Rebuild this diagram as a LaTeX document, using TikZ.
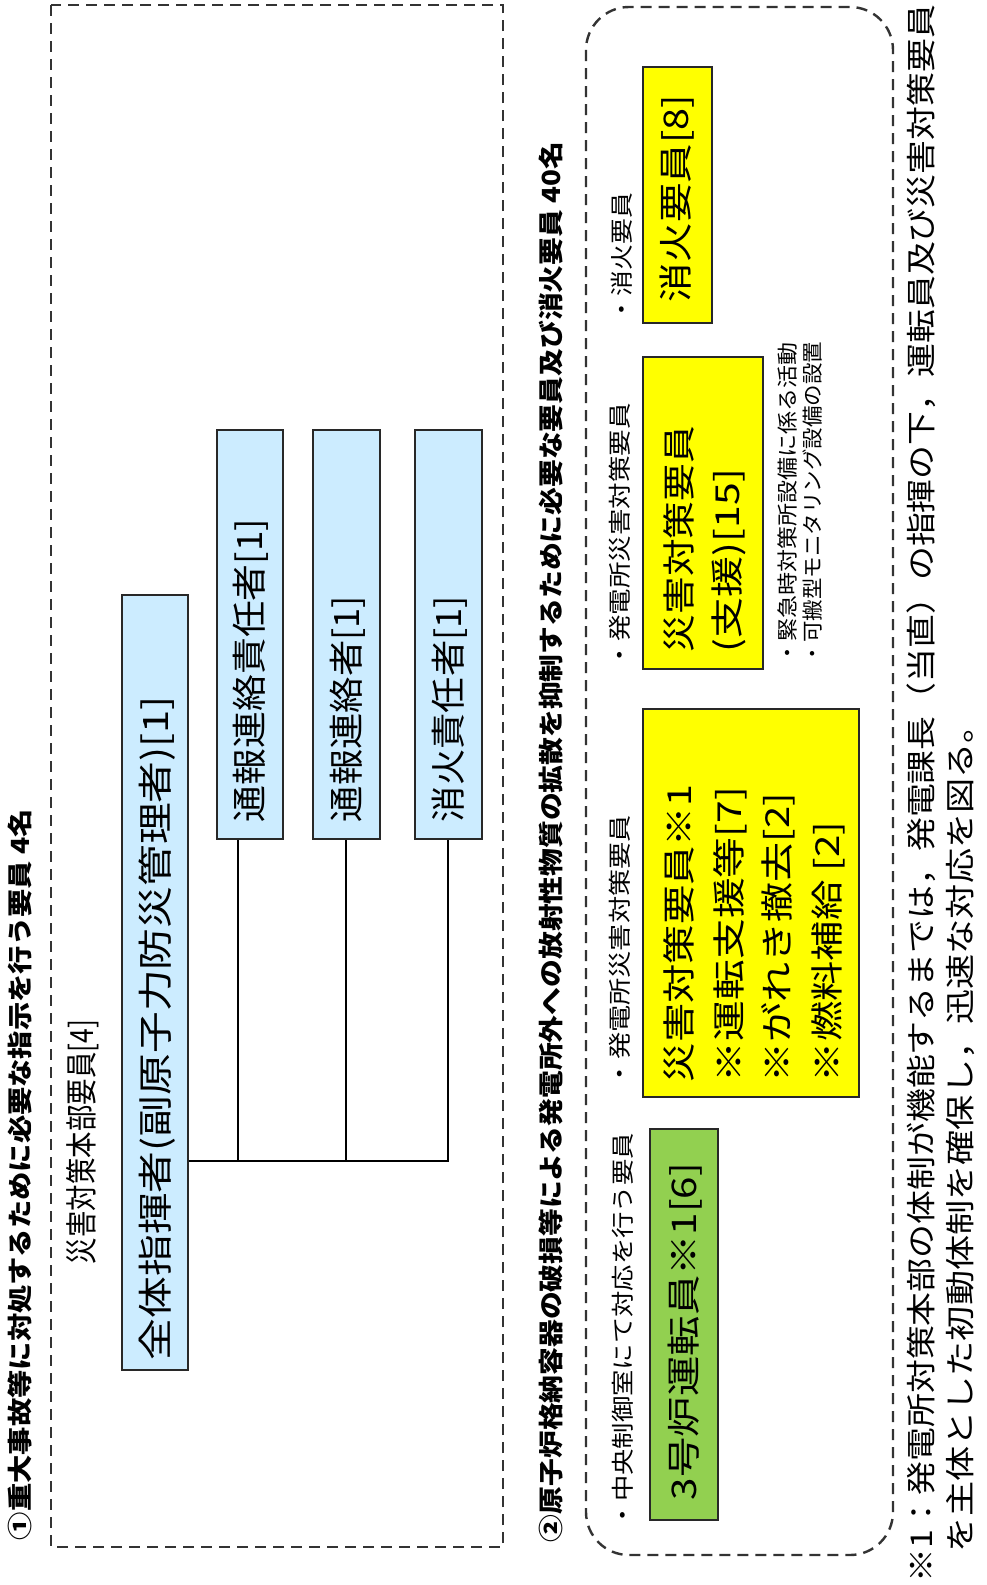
\documentclass[tikz,border=0pt]{standalone}
\usepackage{fontspec}
\usepackage{graphicx}
\setmainfont{Noto Sans CJK JP}
\newcommand\fs[1]{\fontsize{#1}{#1}\selectfont}
\newcommand\fitto[2]{\resizebox{#1pt}{\height}{#2}}
\definecolor{lblue}{RGB}{204,236,255}
\definecolor{lgreen}{RGB}{146,208,80}
\definecolor{yel}{RGB}{255,255,0}
\definecolor{edge}{RGB}{40,40,40}
\begin{document}
\begin{tikzpicture}[x=1pt,y=1pt,
  txt/.style={rotate=90,anchor=west,inner sep=0pt,outer sep=0pt},
  box/.style={draw=edge,line width=1.6pt,inner sep=0pt},
  frame/.style={draw=black!80,line width=2.4pt,dash pattern=on 11pt off 7pt},
  conn/.style={draw=black,line width=2.8pt}]
\useasboundingbox (0,0) rectangle (987,-1585);
\fill[white] (0,0) rectangle (987,-1585);

% frames
\draw[frame] (51,-5) rectangle (503,-1547);
\draw[frame,rounded corners=43pt] (586,-7) rectangle (893,-1555);

% headings
\node[txt,font=\fs{25}\bfseries] (h1) at (20,-1540) {\fitto{731}{①重大事故等に対処するために必要な指示を行う要員 4名}};
\node[txt,font=\fs{32}] (hq) at (83,-1264) {\fitto{244}{災害対策本部要員[4]}};
\node[txt,font=\fs{25}\bfseries] (h2) at (551,-1542) {\fitto{1400}{②原子炉格納容器の破損等による発電所外への放射性物質の拡散を抑制するために必要な要員及び消火要員 40名}};

% region 1 boxes
\node[box,fill=lblue,minimum width=66pt,minimum height=775pt] (zen) at (155,-982.5) {};
\node[box,fill=lblue,minimum width=66pt,minimum height=409pt] (tb1) at (250,-634.5) {};
\node[box,fill=lblue,minimum width=67pt,minimum height=409pt] (tb2) at (346.5,-634.5) {};
\node[box,fill=lblue,minimum width=67pt,minimum height=409pt] (tb3) at (448.5,-634.5) {};
\node[txt,font=\fs{35}] (zent) at (157,-1360) {\fitto{664}{全体指揮者(副原子力防災管理者)[1]}};
\node[txt,font=\fs{35}] (tb1t) at (251,-822) {\fitto{303}{通報連絡責任者[1]}};
\node[txt,font=\fs{35}] (tb2t) at (347.5,-822) {\fitto{226}{通報連絡者[1]}};
\node[txt,font=\fs{35}] (tb3t) at (449.5,-822) {\fitto{226}{消火責任者[1]}};

% connectors
\coordinate (j1) at (238,-1161);
\coordinate (j2) at (346,-1161);
\coordinate (j3) at (448,-1161);
\draw[conn] (zen.east |- j1) -- (j3) -- (j3 |- tb3.south);
\draw[conn] (j1) -- (j1 |- tb1.south);
\draw[conn] (j2) -- (j2 |- tb2.south);

% region 2 labels
\node[txt,font=\fs{23}] (l1) at (623,-1528) {\fitto{395}{・中央制御室にて対応を行う要員}};
\node[txt,font=\fs{23}] (l2) at (620,-1087) {\fitto{272}{・発電所災害対策要員}};
\node[txt,font=\fs{23}] (l3) at (620,-668) {\fitto{265}{・発電所災害対策要員}};
\node[txt,font=\fs{23}] (l4) at (622,-322) {\fitto{129}{・消火要員}};

% region 2 boxes
\node[box,fill=lgreen,minimum width=68pt,minimum height=391pt] (gr) at (684,-1324.5) {};
\node[box,fill=yel,minimum width=216pt,minimum height=388pt] (yb) at (751,-903) {};
\node[box,fill=yel,minimum width=120pt,minimum height=312pt] (y2) at (703,-513) {};
\node[box,fill=yel,minimum width=69pt,minimum height=256pt] (y3) at (677.5,-195) {};

\node[txt,font=\fs{34}] (grt) at (685,-1500) {\fitto{337}{3号炉運転員※1[6]}};
\node[txt,font=\fs{33}] (yb1) at (679,-1082) {\fitto{297}{災害対策要員※1}};
\node[txt,font=\fs{33}] (yb2) at (730,-1082) {\fitto{295}{※運転支援等[7]}};
\node[txt,font=\fs{33}] (yb3) at (778,-1082) {\fitto{289}{※がれき撤去[2]}};
\node[txt,font=\fs{33}] (yb4) at (828,-1082) {\fitto{260}{※燃料補給 [2]}};
\node[txt,font=\fs{33}] (y2a) at (679,-652) {\fitto{226}{災害対策要員}};
\node[txt,font=\fs{33}] (y2b) at (729,-652) {\fitto{183}{(支援)[15]}};
\node[txt,font=\fs{21}] (n1) at (788,-664) {\fitto{322}{・緊急時対策所設備に係る活動}};
\node[txt,font=\fs{21}] (n2) at (813,-664) {\fitto{322}{・可搬型モニタリング設備の設置}};
\node[txt,font=\fs{34}] (y3t) at (677,-302) {\fitto{207}{消火要員[8]}};

% footnote
\node[txt,font=\fs{30}] (f1) at (921,-1582) {\fitto{1577}{※1：発電所対策本部の体制が機能するまでは，発電課長（当直）の指揮の下，運転員及び災害対策要員}};
\node[txt,font=\fs{30}] (f2) at (960,-1552) {\fitto{844}{を主体とした初動体制を確保し，迅速な対応を図る。}};
\end{tikzpicture}
\end{document}
